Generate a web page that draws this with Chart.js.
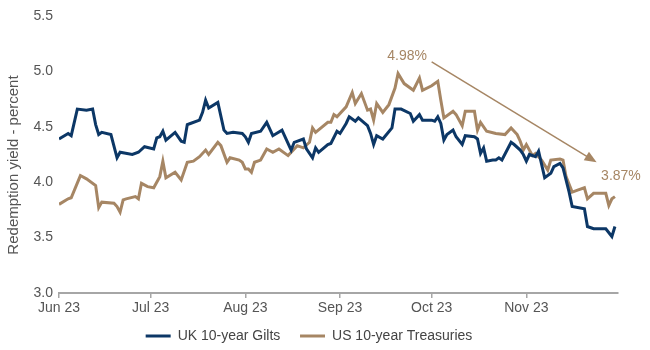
<!DOCTYPE html>
<html>
<head>
<meta charset="utf-8">
<script src="https://cdn.jsdelivr.net/npm/chart.js@4.4.0/dist/chart.umd.min.js"></script>
<style>
  body { margin: 0; background: #fff; }
  #wrap { width: 650px; height: 350px; }
</style>
</head>
<body>
<div id="wrap"><canvas id="myChart" width="650" height="350"></canvas></div>
<script>
const ukDates = ['2023-06-01','2023-06-04','2023-06-05','2023-06-07','2023-06-10','2023-06-12','2023-06-13','2023-06-14','2023-06-15','2023-06-18','2023-06-20','2023-06-21','2023-06-25','2023-06-27','2023-06-29',
  '2023-07-02','2023-07-03','2023-07-04','2023-07-05','2023-07-06','2023-07-09','2023-07-11','2023-07-12','2023-07-13','2023-07-14','2023-07-17','2023-07-18','2023-07-19','2023-07-20','2023-07-23','2023-07-25','2023-07-26','2023-07-28','2023-07-31',
  '2023-08-01','2023-08-02','2023-08-03','2023-08-06','2023-08-08','2023-08-10','2023-08-13','2023-08-16','2023-08-17','2023-08-20','2023-08-21','2023-08-23','2023-08-24','2023-08-25','2023-08-28','2023-08-29','2023-08-31',
  '2023-09-01','2023-09-03','2023-09-04','2023-09-06','2023-09-07','2023-09-10','2023-09-11','2023-09-12','2023-09-13','2023-09-15','2023-09-18','2023-09-19','2023-09-21','2023-09-24','2023-09-25','2023-09-27','2023-09-28',
  '2023-10-01','2023-10-02','2023-10-03','2023-10-04','2023-10-05','2023-10-06','2023-10-08','2023-10-09','2023-10-11','2023-10-12','2023-10-15','2023-10-16','2023-10-17','2023-10-18','2023-10-19','2023-10-21','2023-10-22','2023-10-23','2023-10-24','2023-10-27','2023-10-28','2023-10-30','2023-10-31',
  '2023-11-01','2023-11-02','2023-11-04','2023-11-05','2023-11-07','2023-11-09','2023-11-10','2023-11-12','2023-11-13','2023-11-15','2023-11-16','2023-11-20','2023-11-21','2023-11-23','2023-11-27','2023-11-29','2023-11-30'];
const ukYield = [4.39,4.44,4.42,4.66,4.65,4.66,4.52,4.43,4.45,4.43,4.22,4.27,4.25,4.27,4.32,
  4.30,4.40,4.41,4.46,4.38,4.45,4.37,4.36,4.52,4.53,4.56,4.63,4.74,4.67,4.72,4.47,4.44,4.45,4.44,
  4.41,4.36,4.44,4.46,4.54,4.42,4.47,4.29,4.36,4.39,4.30,4.22,4.31,4.27,4.34,4.35,4.46,
  4.44,4.53,4.59,4.55,4.58,4.51,4.44,4.34,4.42,4.39,4.49,4.66,4.66,4.62,4.55,4.61,4.56,
  4.56,4.55,4.59,4.53,4.38,4.43,4.47,4.41,4.34,4.42,4.41,4.39,4.26,4.31,4.19,4.20,4.20,4.22,4.20,4.36,4.34,4.29,4.25,
  4.19,4.25,4.23,4.28,4.04,4.08,4.14,4.17,4.13,3.91,3.78,3.76,3.60,3.58,3.58,3.51,3.60];

const usDates = ['2023-06-01','2023-06-04','2023-06-05','2023-06-08','2023-06-10','2023-06-13','2023-06-14','2023-06-15','2023-06-19','2023-06-20','2023-06-21','2023-06-22','2023-06-23','2023-06-26','2023-06-27','2023-06-28','2023-06-30',
  '2023-07-02','2023-07-04','2023-07-05','2023-07-06','2023-07-09','2023-07-11','2023-07-13','2023-07-15','2023-07-17','2023-07-19','2023-07-20','2023-07-23','2023-07-24','2023-07-26','2023-07-27','2023-07-30','2023-07-31',
  '2023-08-01','2023-08-02','2023-08-03','2023-08-04','2023-08-06','2023-08-08','2023-08-10','2023-08-12','2023-08-15','2023-08-18','2023-08-20','2023-08-22','2023-08-23','2023-08-24','2023-08-28','2023-08-29','2023-08-30','2023-08-31',
  '2023-09-03','2023-09-05','2023-09-06','2023-09-08','2023-09-10','2023-09-11','2023-09-12','2023-09-13','2023-09-15','2023-09-17','2023-09-19','2023-09-20','2023-09-22','2023-09-25','2023-09-27','2023-09-28',
  '2023-10-01','2023-10-03','2023-10-04','2023-10-05','2023-10-08','2023-10-09','2023-10-11','2023-10-12','2023-10-13','2023-10-15','2023-10-16','2023-10-17','2023-10-19','2023-10-22','2023-10-25','2023-10-27','2023-10-29','2023-10-30','2023-10-31',
  '2023-11-01','2023-11-03','2023-11-04','2023-11-06','2023-11-08','2023-11-09','2023-11-12','2023-11-13','2023-11-14','2023-11-16','2023-11-18','2023-11-20','2023-11-21','2023-11-23','2023-11-27','2023-11-28','2023-11-29','2023-11-30'];
const usYield = [3.80,3.85,3.86,4.06,4.03,3.97,3.77,3.82,3.81,3.78,3.73,3.84,3.85,3.87,3.85,3.99,3.96,
  3.95,4.05,4.19,4.04,4.09,4.02,4.18,4.19,4.23,4.29,4.25,4.36,4.33,4.18,4.22,4.20,4.18,
  4.12,4.12,4.09,4.18,4.20,4.30,4.27,4.30,4.24,4.33,4.31,4.36,4.49,4.45,4.54,4.54,4.61,4.59,
  4.68,4.81,4.71,4.80,4.65,4.66,4.56,4.71,4.63,4.70,4.85,4.98,4.89,4.83,4.94,4.83,
  4.87,4.91,4.74,4.58,4.64,4.61,4.51,4.64,4.64,4.64,4.47,4.54,4.46,4.44,4.43,4.49,4.43,4.37,4.29,
  4.34,4.24,4.26,4.20,4.11,4.20,4.21,4.20,4.05,3.91,3.93,3.95,3.85,3.90,3.90,3.79,3.85,3.87];

const monthTicks = ['2023-06-01','2023-07-01','2023-08-01','2023-09-01','2023-10-01','2023-11-01'];
const monthLabels = ['Jun 23','Jul 23','Aug 23','Sep 23','Oct 23','Nov 23'];
const axisEnd = '2023-12-01';

// arrow drawn from the peak label down to the latest value, in data units (day, yield)
const arrowFrom = ['2023-10-01', 5.085];
const arrowTo = ['2023-11-24', 4.18];

const navy = '#0c3766';
const tan = '#a68664';
const grey = '#555555';

const base = Date.parse('2023-06-01');
function dayOf(s) {
  return (Date.parse(s) - base) / 86400000;
}

function toPoints(dates, vals) {
  return dates.map((d, i) => ({ x: dayOf(d), y: vals[i] }));
}

Chart.defaults.font.family = "'Liberation Sans', Arial, sans-serif";
Chart.defaults.font.size = 14;
Chart.defaults.color = grey;

const notes = {
  id: 'notes',
  afterDatasetsDraw(chart) {
    const ctx = chart.ctx;
    const x = chart.scales.x;
    const y = chart.scales.y;
    ctx.save();
    ctx.fillStyle = tan;
    ctx.strokeStyle = tan;
    ctx.font = "14px 'Liberation Sans', Arial, sans-serif";
    ctx.textAlign = 'center';
    ctx.textBaseline = 'middle';

    // peak label
    const peak = Math.max(...usYield);
    const pi = usYield.indexOf(peak);
    ctx.fillText(peak.toFixed(2) + '%', x.getPixelForValue(dayOf(usDates[pi])) + 9, y.getPixelForValue(peak) - 17);

    // latest label
    const li = usYield.length - 1;
    ctx.fillText(usYield[li].toFixed(2) + '%', x.getPixelForValue(dayOf(usDates[li])) + 6, y.getPixelForValue(usYield[li]) - 20);

    // arrow
    const x1 = x.getPixelForValue(dayOf(arrowFrom[0])), y1 = y.getPixelForValue(arrowFrom[1]);
    const x2 = x.getPixelForValue(dayOf(arrowTo[0])), y2 = y.getPixelForValue(arrowTo[1]);
    const ang = Math.atan2(y2 - y1, x2 - x1);
    const head = 12;
    ctx.lineWidth = 1.5;
    ctx.beginPath();
    ctx.moveTo(x1, y1);
    ctx.lineTo(x2 - Math.cos(ang) * head * 0.8, y2 - Math.sin(ang) * head * 0.8);
    ctx.stroke();
    ctx.beginPath();
    ctx.moveTo(x2, y2);
    ctx.lineTo(x2 - head * Math.cos(ang) + 5 * Math.sin(ang), y2 - head * Math.sin(ang) - 5 * Math.cos(ang));
    ctx.lineTo(x2 - head * Math.cos(ang) - 5 * Math.sin(ang), y2 - head * Math.sin(ang) + 5 * Math.cos(ang));
    ctx.closePath();
    ctx.fill();

    // y axis title
    ctx.fillStyle = grey;
    ctx.font = "15px 'Liberation Sans', Arial, sans-serif";
    ctx.translate(14, 165);
    ctx.rotate(-Math.PI / 2);
    ctx.fillText('Redemption yield - percent', 0, 0);
    ctx.restore();
  }
};

const ctx = document.getElementById('myChart').getContext('2d');
const myChart = new Chart(ctx, {
  type: 'line',
  data: {
    datasets: [{
      label: 'UK 10-year Gilts',
      data: toPoints(ukDates, ukYield),
      borderColor: navy,
      backgroundColor: navy,
      borderWidth: 3,
      pointRadius: 0,
      tension: 0
    }, {
      label: 'US 10-year Treasuries',
      data: toPoints(usDates, usYield),
      borderColor: tan,
      backgroundColor: tan,
      borderWidth: 3,
      pointRadius: 0,
      tension: 0
    }]
  },
  options: {
    responsive: false,
    animation: false,
    layout: { padding: { left: 0, right: 32, top: 16, bottom: -3 } },
    plugins: {
      legend: {
        position: 'bottom',
        labels: {
          usePointStyle: true,
          pointStyle: 'line',
          pointStyleWidth: 25,
          padding: 8,
          color: '#444',
          font: { size: 14 },
          generateLabels: chart => {
            const items = Chart.defaults.plugins.legend.labels.generateLabels(chart);
            // widen the gap after the first entry
            items[0].text = items[0].text + '   ';
            return items;
          }
        }
      },
      tooltip: { enabled: false }
    },
    scales: {
      x: {
        type: 'linear',
        min: 0,
        max: dayOf(axisEnd),
        afterBuildTicks: s => { s.ticks = monthTicks.map(d => ({ value: dayOf(d) })); },
        afterFit: s => { s.height = 28; },
        ticks: {
          autoSkip: false,
          maxRotation: 0,
          padding: 2,
          color: grey,
          callback: (v, i) => monthLabels[i]
        },
        grid: { drawOnChartArea: false, drawTicks: true, tickLength: 5, color: '#a6a6a6', lineWidth: 1.5 },
        border: { color: '#a6a6a6', width: 2 }
      },
      y: {
        min: 3,
        max: 5.5,
        afterFit: s => { s.width = 59; },
        ticks: { stepSize: 0.5, padding: 6, color: grey, callback: v => v.toFixed(1) },
        grid: { display: false, drawTicks: false },
        border: { display: false }
      }
    }
  },
  plugins: [notes]
});
</script>
</body>
</html>
